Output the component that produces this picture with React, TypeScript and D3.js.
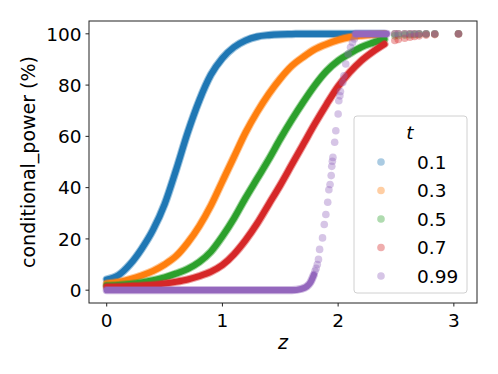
import React from 'react'
import * as d3 from 'd3'

// t values shown in the legend, and their tab10 colours
const tLabels = ['0.1', '0.3', '0.5', '0.7', '0.99']
const colors = ['#1f77b4', '#ff7f0e', '#2ca02c', '#d62728', '#9467bd']

// dense part of the curves (z samples shared by t = 0.1 .. 0.7)
const zGrid = [0, 0.1, 0.2, 0.3, 0.4, 0.5, 0.6, 0.7, 0.8, 0.9, 1.0, 1.1, 1.2, 1.3, 1.4, 1.5, 1.6, 1.7, 1.8, 1.9, 2.0, 2.1, 2.2, 2.3, 2.4]
const cpT01 = [4.2, 5.8, 10, 16, 23.5, 33.5, 47, 61.5, 74, 84, 90.5, 94.8, 97.4, 98.9, 99.5, 99.8, 99.9, 100, 100, 100, 100, 100, 100, 100, 100]
const cpT03 = [2.6, 3.2, 4.3, 5.7, 7.5, 10, 13.3, 18.5, 25, 33, 42.5, 52, 61.5, 69.5, 76.5, 82.5, 87.5, 91, 94, 96, 97.6, 98.7, 99.3, 99.7, 99.9]
const cpT05 = [1.8, 2.0, 2.4, 3.0, 3.9, 5.0, 6.5, 8.3, 11, 15, 21, 28, 36, 43.5, 51, 59, 66.5, 73.5, 80, 85.5, 89.5, 92.3, 94.8, 96.5, 98]
const cpT07 = [1.3, 1.4, 1.6, 1.8, 2.1, 2.6, 3.3, 4.2, 5.5, 7.2, 9.8, 14, 19.5, 26, 33.5, 41, 49, 57, 65, 72.5, 79.5, 85, 89.5, 93, 96]

// t = 0.99: flat, then a steep rise of single points, then flat at 100
const zLow99 = [0, 1.6, 1.68, 1.73, 1.76, 1.79]
const cpLow99 = [0, 0, 0.5, 1.5, 3, 6]
const zRise99 = [1.8, 1.81, 1.82, 1.83, 1.84, 1.865, 1.88, 1.894, 1.91, 1.92, 1.93, 1.94, 1.945, 1.95, 1.955, 1.97, 1.98, 2.0, 2.006, 2.015, 2.02, 2.04, 2.05, 2.066, 2.086, 2.107, 2.124, 2.14]
const cpRise99 = [7.5, 8.5, 10, 12, 15.9, 20.4, 25.6, 29.5, 34.3, 39.2, 41.2, 44.7, 48.3, 50.3, 51.8, 57.7, 62.2, 68.7, 73.9, 75.8, 77.5, 81, 83.6, 88.2, 92.1, 94.7, 96.6, 98]
const zTop99 = [2.15, 2.42]
const cpTop99 = [100, 100]

// sparse tail of single points, same z for every t
const zTail = [2.49, 2.52, 2.575, 2.62, 2.66, 2.7, 2.76, 2.835, 3.04]
const cpTailT01 = [100, 100, 100, 100, 100, 100, 100, 100, 100]
const cpTailT03 = [100, 100, 100, 100, 100, 100, 100, 100, 100]
const cpTailT05 = [99.2, 99.3, 99.5, 99.6, 99.7, 99.8, 99.9, 99.9, 100]
const cpTailT07 = [97.4, 97.8, 98.3, 98.7, 99.0, 99.2, 99.5, 99.7, 99.9]
const cpTailT099 = [100, 100, 100, 100, 100, 100, 100, 100, 100]

const xTicks = [0, 1, 2, 3]
const yTicks = [0, 20, 40, 60, 80, 100]

const zip = (zs: number[], cs: number[]) => zs.map((z, i) => [z, cs[i]] as [number, number])

const ConditionalPowerChart = () => {
  const svgRef = React.useRef<SVGSVGElement>(null)
  const width = 498
  const height = 374

  React.useEffect(() => {
    const svg = d3.select(svgRef.current)
    svg.selectAll('*').remove()

    const x = d3.scaleLinear().domain([-0.153, 3.2]).range([89, 477])
    const y = d3.scaleLinear().domain([-5, 105]).range([303, 21])
    const font = 'DejaVu Sans, sans-serif'

    const series = [
      { lines: [zip(zGrid, cpT01)], dots: [zip(zTail, cpTailT01)] },
      { lines: [zip(zGrid, cpT03)], dots: [zip(zTail, cpTailT03)] },
      { lines: [zip(zGrid, cpT05)], dots: [zip(zTail, cpTailT05)] },
      { lines: [zip(zGrid, cpT07)], dots: [zip(zTail, cpTailT07)] },
      { lines: [zip(zLow99, cpLow99), zip(zTop99, cpTop99)], dots: [zip(zRise99, cpRise99), zip(zTail, cpTailT099)] },
    ]

    const line = d3.line<[number, number]>()
      .x((d) => x(d[0]))
      .y((d) => y(d[1]))
      .curve(d3.curveMonotoneX)

    const plot = svg.append('g')
    series.forEach((s, i) => {
      const g = plot.append('g')
      s.lines.forEach((pts) => {
        g.append('path').attr('d', line(pts)).attr('fill', 'none')
          .attr('stroke', colors[i]).attr('stroke-width', 8.2).attr('stroke-opacity', 0.45)
          .attr('stroke-linecap', 'round')
        g.append('path').attr('d', line(pts)).attr('fill', 'none')
          .attr('stroke', colors[i]).attr('stroke-width', 6.2).attr('stroke-linecap', 'round')
      })
      s.dots.forEach((pts) => {
        g.selectAll(null).data(pts).join('circle')
          .attr('cx', (d) => x(d[0]))
          .attr('cy', (d) => y(d[1]))
          .attr('r', 3.8)
          .attr('fill', colors[i])
          .attr('fill-opacity', 0.38)
      })
    })

    // frame
    svg.append('rect').attr('x', 89).attr('y', 21).attr('width', 388).attr('height', 282)
      .attr('fill', 'none').attr('stroke', '#222').attr('stroke-width', 1)

    // x axis
    const xg = svg.append('g')
    xTicks.forEach((t) => {
      xg.append('line').attr('x1', x(t)).attr('x2', x(t)).attr('y1', 303).attr('y2', 306.5)
        .attr('stroke', '#222').attr('stroke-width', 1)
      xg.append('text').attr('x', x(t)).attr('y', 326.5).attr('text-anchor', 'middle')
        .attr('font-family', font).attr('font-size', 18.5).text(t)
    })
    svg.append('text').attr('x', (89 + 477) / 2).attr('y', 348.5).attr('text-anchor', 'middle')
      .attr('font-family', font).attr('font-size', 19).attr('font-style', 'italic').text('z')

    // y axis
    const yg = svg.append('g')
    yTicks.forEach((t) => {
      yg.append('line').attr('x1', 85.5).attr('x2', 89).attr('y1', y(t)).attr('y2', y(t))
        .attr('stroke', '#222').attr('stroke-width', 1)
      yg.append('text').attr('x', 81.5).attr('y', y(t) + 6.7).attr('text-anchor', 'end')
        .attr('font-family', font).attr('font-size', 18.5).text(t)
    })
    svg.append('text').attr('transform', `translate(34.5,${(21 + 303) / 2}) rotate(-90)`)
      .attr('text-anchor', 'middle').attr('font-family', font).attr('font-size', 19)
      .text('conditional_power (%)')

    // legend
    const lg = svg.append('g')
    lg.append('rect').attr('x', 354).attr('y', 116).attr('width', 113).attr('height', 177)
      .attr('rx', 3).attr('fill', '#fff').attr('fill-opacity', 0.8)
      .attr('stroke', '#d0d0d0').attr('stroke-width', 1)
    lg.append('text').attr('x', 410).attr('y', 139).attr('text-anchor', 'middle')
      .attr('font-family', font).attr('font-size', 18.5).attr('font-style', 'italic').text('t')
    tLabels.forEach((lab, i) => {
      const cy = 162 + i * 28.5
      lg.append('circle').attr('cx', 381).attr('cy', cy).attr('r', 3.8)
        .attr('fill', colors[i]).attr('fill-opacity', 0.38)
      lg.append('text').attr('x', 417).attr('y', cy + 6.7)
        .attr('font-family', font).attr('font-size', 18.5).text(lab)
    })
  }, [])

  return (
    <svg
      ref={svgRef}
      width={width}
      height={height}
      style={{ position: 'absolute', left: 0, top: 0, background: '#fff' }}
    />
  )
}

export default function App() {
  return <ConditionalPowerChart />
}
